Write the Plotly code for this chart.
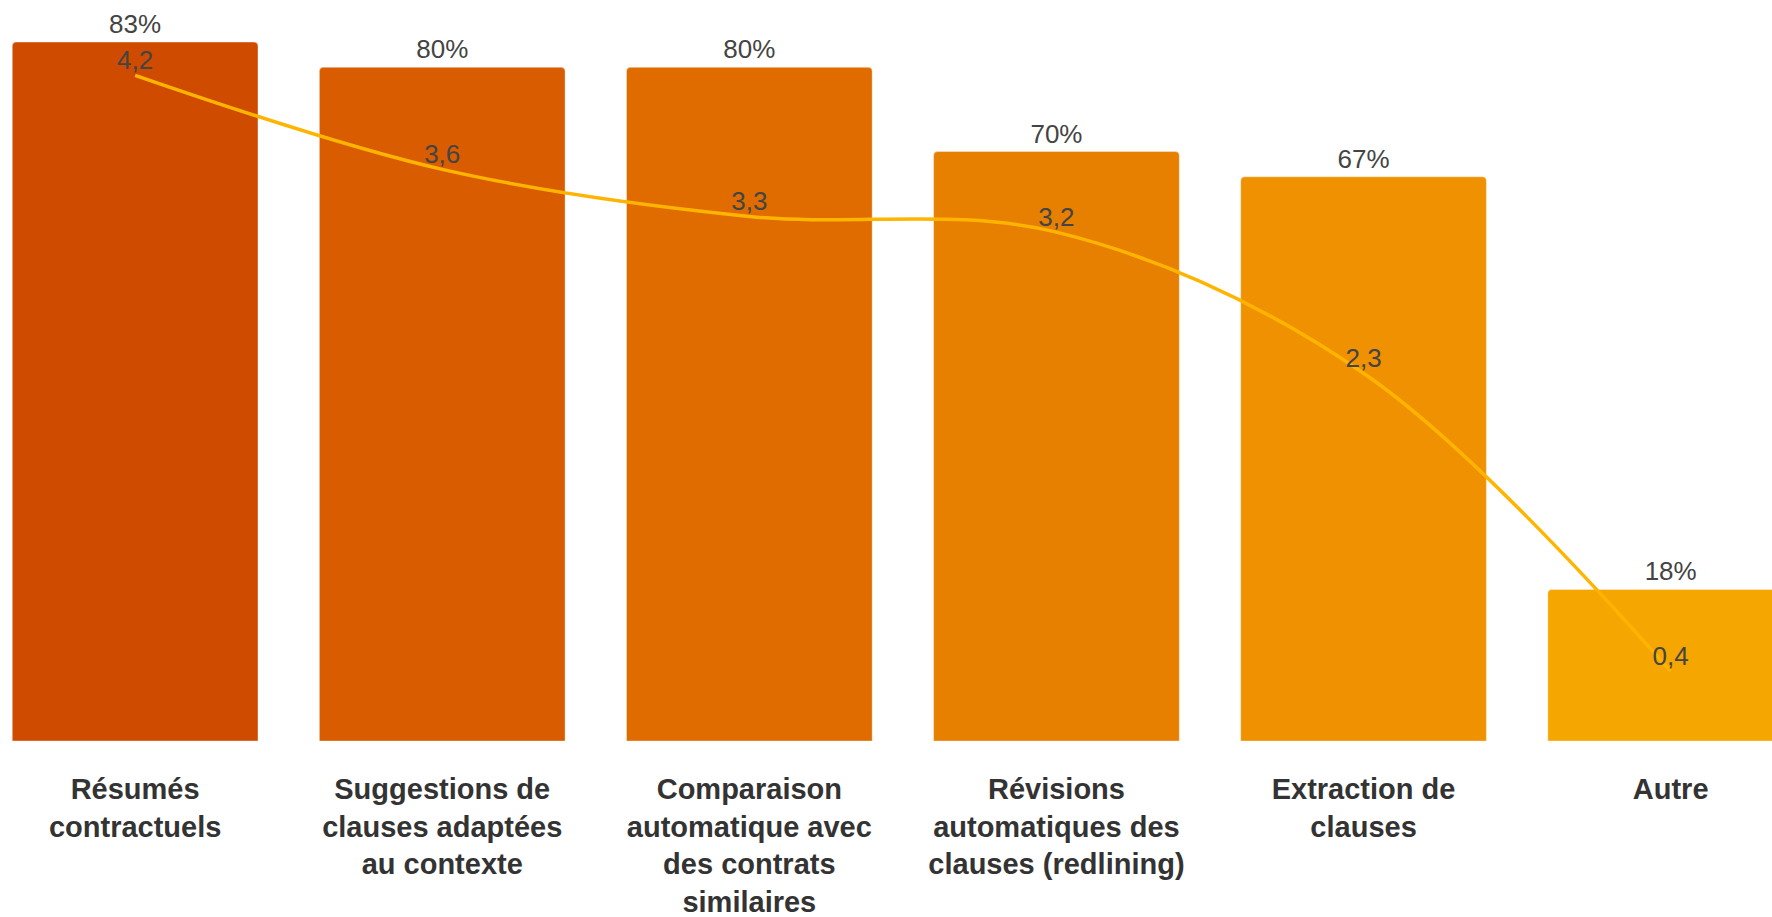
import plotly.graph_objects as go

# --- data ---
categories = [
    "Résumés<br>contractuels",
    "Suggestions de<br>clauses adaptées<br>au contexte",
    "Comparaison<br>automatique avec<br>des contrats<br>similaires",
    "Révisions<br>automatiques des<br>clauses (redlining)",
    "Extraction de<br>clauses",
    "Autre",
]
share_pct = [83, 80, 80, 70, 67, 18]
avg_score = [4.2, 3.6, 3.3, 3.2, 2.3, 0.4]

BAR_COLORS = ["#CF4B00", "#D95C00", "#E06C00", "#E77F00", "#EF9100", "#F6A600"]
LINE_COLOR = "#FFB400"
FONT = "Arial, Liberation Sans, sans-serif"

fig = go.Figure()

fig.add_trace(go.Bar(
    x=categories,
    y=share_pct,
    marker={"color": BAR_COLORS, "line": {"width": 1, "color": "rgba(255,255,255,0.35)"}},
    text=[f"{v}%" for v in share_pct],
    textposition="outside",
    textfont={"size": 26, "color": "#444444", "family": FONT},
    cliponaxis=False,
    hoverinfo="skip",
))

fig.add_trace(go.Scatter(
    x=categories,
    y=avg_score,
    yaxis="y2",
    mode="lines+text",
    line={"color": LINE_COLOR, "width": 3.5, "shape": "spline", "smoothing": 1.0},
    text=[f"{v:.1f}".replace(".", ",") for v in avg_score],
    textposition="top center",
    textfont={"size": 26, "color": "#444444", "family": FONT},
    cliponaxis=False,
    hoverinfo="skip",
))

fig.update_layout(
    width=1772,
    height=917,
    paper_bgcolor="white",
    plot_bgcolor="white",
    showlegend=False,
    bargap=0.2,
    barcornerradius=4,
    margin={"t": 0, "b": 176, "l": 0, "r": 0, "autoexpand": False},
    font={"family": FONT},
    xaxis={
        "range": [-0.44, 5.33],
        "automargin": False,
        "showgrid": False,
        "zeroline": False,
        "showline": False,
        "ticks": "",
        "ticklabelstandoff": 28,
        "tickfont": {"size": 29, "color": "#333333", "family": FONT, "weight": "bold"},
    },
    yaxis={"range": [0, 88], "visible": False},
    yaxis2={"range": [-0.045, 4.68], "overlaying": "y", "visible": False},
)

# page body has a default 8px margin; drop it so the chart sits flush
fig.write_html(
    "out.html",
    config={"displayModeBar": False},
    post_script="document.body.style.margin='0';",
)
